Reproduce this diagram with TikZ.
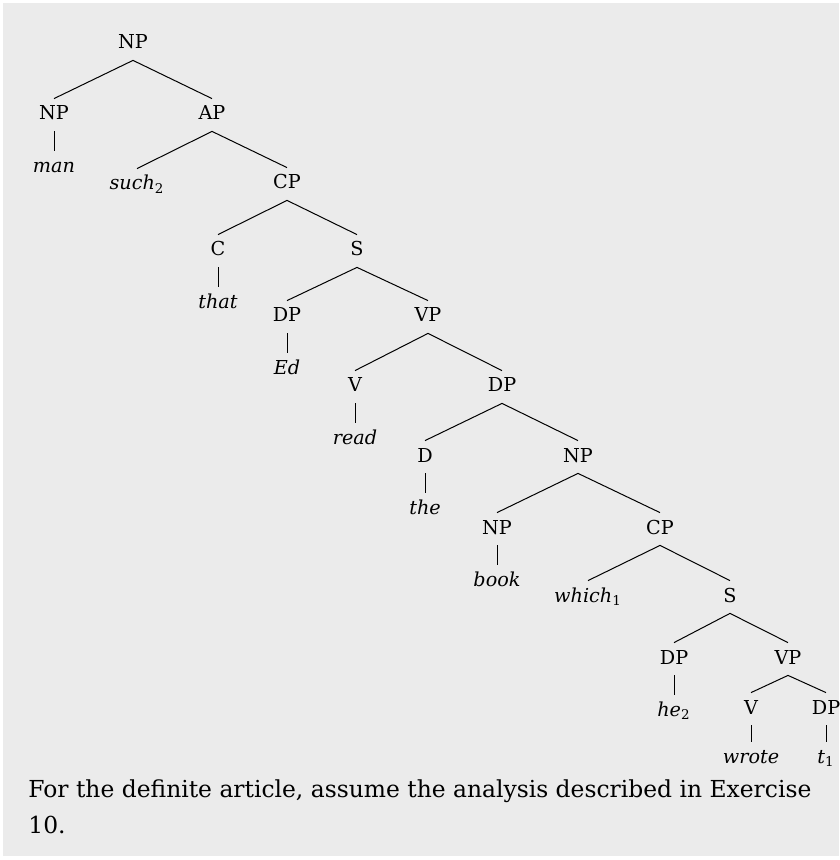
\documentclass[tikz,border=0pt]{standalone}
\usepackage{fontspec}
\setmainfont{DejaVu Serif}
\usetikzlibrary{positioning}
\definecolor{bggray}{HTML}{EBEBEB}

\begin{document}
\begin{tikzpicture}[x=0.5pt, y=-0.5pt,
  cat/.style={font=\fontsize{9.6}{12}\selectfont, text height=7pt, text depth=2pt,
              inner xsep=1pt, inner ysep=3.5pt, anchor=base},
  leaf/.style={cat, font=\fontsize{9.6}{12}\selectfont\itshape},
  br/.style={line width=0.5pt},
  note/.style={font=\fontsize{11.7}{18}\selectfont, align=left, inner sep=0pt},
]
\useasboundingbox (0,0) rectangle (839,860);
\fill[bggray] (3,3) rectangle (839,856);

% upper part of the tree
\node[cat] (np0) at (133,49) {NP};
\node[cat] (np1) at (54,120) {NP};
\node[cat] (ap) at (212,120) {AP};
\node[leaf, below=10pt of np1] (man) {man};
\node[leaf] (such) at (137,190) {such\textsubscript{\upshape 2}};
\node[cat] (cp1) at (287,189) {CP};
\node[cat] (c) at (218,256) {C};
\node[cat] (s1) at (357,256) {S};
\node[leaf, below=10pt of c] (that) {that};
\node[cat] (dp1) at (287,322) {DP};
\node[cat] (vp1) at (428,322) {VP};
\node[leaf, below=10pt of dp1] (ed) {Ed};
\node[cat] (v1) at (355,392) {V};
\node[cat] (dp2) at (502,392) {DP};
\node[leaf, below=10pt of v1] (read) {read};

% object DP with the relative clause
\node[cat] (d) at (425,462) {D};
\node[cat] (np2) at (578,462) {NP};
\node[leaf, below=10pt of d] (the) {the};
\node[cat] (np3) at (497,534) {NP};
\node[cat] (cp2) at (660,534) {CP};
\node[leaf, below=10pt of np3] (book) {book};
\node[leaf] (which) at (588,602) {which\textsubscript{\upshape 1}};
\node[cat] (s2) at (730,602) {S};
\node[cat] (dp3) at (674,664) {DP};
\node[cat] (vp2) at (788,664) {VP};
\node[leaf, below=10pt of dp3] (he) {he\textsubscript{\upshape 2}};
\node[cat] (v2) at (751,714) {V};
\node[cat] (dp4) at (826,714) {DP};
\node[leaf, below=8.5pt of v2] (wrote) {wrote};
\node[leaf, below=8.5pt of dp4] (t) {t\textsubscript{\upshape 1}};

\foreach \p/\c in {np0/np1, np0/ap, np1/man, ap/such, ap/cp1, cp1/c, cp1/s1, c/that,
                   s1/dp1, s1/vp1, dp1/ed, vp1/v1, vp1/dp2, v1/read, dp2/d, dp2/np2,
                   d/the, np2/np3, np2/cp2, np3/book, cp2/which, cp2/s2, s2/dp3,
                   s2/vp2, dp3/he, vp2/v2, vp2/dp4, v2/wrote, dp4/t}
  \draw[br] (\p.south) -- (\c.north);

\node[note, anchor=base west] (caption) at (28,833)
  {For the definite article, assume the analysis described in Exercise\\10.};
\end{tikzpicture}
\end{document}
